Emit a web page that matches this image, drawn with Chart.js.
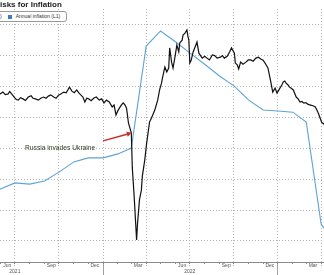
<!DOCTYPE html>
<html>
<head>
<meta charset="utf-8">
<script src="https://cdn.jsdelivr.net/npm/chart.js@4/dist/chart.umd.min.js"></script>
<style>
  html, body { margin: 0; padding: 0; background: #fff; }
  #wrap { position: relative; width: 324px; height: 275px; overflow: hidden; background: #fff; }
  #c { position: absolute; left: 0; top: 0; }
  #title { position: absolute; left: 0; top: 1px; font: bold 8px/8px 'Liberation Sans', Arial, sans-serif; color: #1a1a1a; white-space: nowrap; }
  #legend { position: absolute; left: -6px; top: 11px; width: 71px; height: 9px; border: 1px solid #9a9a9a; border-radius: 3px; background: #fff;
            font: 5px/9px 'Liberation Sans', Arial, sans-serif; color: #333; white-space: nowrap; display: flex; align-items: center; }
  #legend .sq { display: inline-block; width: 4px; height: 4px; background: #3b7dc4; margin-left: 6px; margin-right: 4px; }
  #note { position: absolute; left: 25px; top: 144.5px; font: 6.7px/6.7px 'Liberation Sans', Arial, sans-serif; color: #2f3d25; white-space: nowrap; }
</style>
</head>
<body>
<div id="wrap">
  <canvas id="c" width="324" height="275"></canvas>
  <div id="title">isks for Inflation</div>
  <div id="legend"><span style="margin-left:5px">)</span><span class="sq"></span><span>Annual inflation (L1)</span></div>
  <div id="note">Russia invades Ukraine</div>
</div>
<script>
// ---------- data ----------
const blueDates = ['2021-05-01','2021-06-01','2021-07-01','2021-08-01','2021-09-01','2021-10-01','2021-11-01','2021-12-01',
  '2022-01-01','2022-02-01','2022-03-01','2022-04-01','2022-05-01','2022-06-01','2022-07-01','2022-08-01','2022-09-01',
  '2022-10-01','2022-11-01','2022-12-01','2023-01-01','2023-02-01','2023-03-01','2023-04-01','2023-05-01'];
const blueValues = [2.45,2.68,2.88,2.84,2.94,3.23,3.56,3.69,
  3.69,3.82,4.01,7.31,7.80,7.45,7.09,6.72,6.34,
  6.02,5.56,5.24,5.21,5.17,4.85,1.55,0.90];

const blackDates = [
  '2021-05-27','2021-06-06','2021-06-11','2021-06-17','2021-06-20','2021-06-23','2021-07-01','2021-07-04','2021-07-08','2021-07-13',
  '2021-07-18','2021-07-23','2021-07-29','2021-08-04','2021-08-08','2021-08-13','2021-08-19','2021-08-24','2021-08-30','2021-09-04',
  '2021-09-09','2021-09-14','2021-09-20','2021-09-25','2021-09-30','2021-10-05','2021-10-11','2021-10-16','2021-10-23','2021-10-28',
  '2021-11-02','2021-11-07','2021-11-11','2021-11-16','2021-11-20','2021-11-24','2021-11-28','2021-12-02','2021-12-07','2021-12-13',
  '2021-12-18','2021-12-24','2021-12-29','2022-01-03','2022-01-08','2022-01-14','2022-01-20','2022-01-24','2022-01-28','2022-02-01',
  '2022-02-04','2022-02-08','2022-02-12','2022-02-16','2022-02-19','2022-02-23','2022-03-01','2022-03-03','2022-03-05','2022-03-07',
  '2022-03-12','2022-03-14','2022-03-18','2022-03-22','2022-03-24','2022-03-29','2022-04-02','2022-04-08','2022-04-12','2022-04-19',
  '2022-04-25','2022-04-29','2022-05-03','2022-05-05','2022-05-10','2022-05-14','2022-05-18','2022-05-20','2022-05-24','2022-05-27',
  '2022-05-31','2022-06-04','2022-06-08','2022-06-10','2022-06-15','2022-06-17','2022-06-21','2022-06-25','2022-06-27','2022-06-29',
  '2022-07-01','2022-07-04','2022-07-08','2022-07-12','2022-07-16','2022-07-20','2022-07-27','2022-08-01','2022-08-06','2022-08-11',
  '2022-08-17','2022-08-22','2022-08-27','2022-09-03','2022-09-07','2022-09-11','2022-09-17','2022-09-22','2022-09-26','2022-10-02',
  '2022-10-04','2022-10-08','2022-10-11','2022-10-15','2022-10-20','2022-10-26','2022-10-31','2022-11-05','2022-11-10','2022-11-16',
  '2022-11-21','2022-11-26','2022-12-01','2022-12-05','2022-12-11','2022-12-17','2022-12-21','2022-12-26','2022-12-30','2023-01-05',
  '2023-01-09','2023-01-12','2023-01-15','2023-01-18','2023-01-22','2023-01-25','2023-01-28','2023-02-02','2023-02-08','2023-02-12',
  '2023-02-16','2023-02-20','2023-02-23','2023-03-01','2023-03-05','2023-03-10','2023-03-15','2023-03-20','2023-03-26','2023-04-02',
  '2023-04-06','2023-04-10'];
const blackValues = [
  5.72,5.82,5.74,5.76,5.84,5.79,5.63,5.58,5.56,5.64,
  5.60,5.55,5.66,5.70,5.62,5.60,5.56,5.62,5.66,5.62,
  5.69,5.73,5.66,5.62,5.72,5.76,5.82,5.80,5.98,5.85,
  5.80,5.89,5.80,5.72,5.66,5.50,5.62,5.60,5.54,5.63,
  5.66,5.56,5.60,5.47,5.56,5.50,5.34,5.40,5.08,5.22,
  5.30,5.40,5.47,5.40,5.30,4.82,4.50,3.39,2.91,2.42,
  1.03,1.58,2.33,2.65,3.10,3.62,4.17,4.85,4.98,5.24,
  5.56,5.89,6.11,6.28,6.63,6.47,6.60,7.25,6.79,6.60,
  6.95,7.34,7.12,7.41,7.50,7.67,7.73,7.83,7.63,7.50,
  6.76,6.86,7.12,7.28,7.44,7.08,6.92,6.98,6.92,6.86,
  7.02,7.00,6.92,6.95,7.00,6.92,6.98,7.12,7.25,7.08,
  6.76,6.70,6.57,6.79,6.72,6.79,6.86,6.86,6.82,6.92,
  6.95,6.89,6.85,6.76,6.60,6.15,5.82,5.95,5.79,5.95,
  6.05,6.15,6.18,6.11,6.05,5.98,5.95,5.89,5.66,5.60,
  5.50,5.52,5.47,5.47,5.42,5.40,5.38,5.34,5.14,4.85,
  4.79,4.85];

// axis / tick definitions
const xRange = ['2021-05-31', '2023-04-07'];
const yRange = [0.32, 8.51];
const yGridValues = [1, 2, 3, 4, 5, 6, 7, 8];
const quarterStarts = ['2021-07-01','2021-10-01','2022-01-01','2022-04-01','2022-07-01','2022-10-01','2023-01-01','2023-04-01'];
const monthLabelDates = ['2021-06-15','2021-09-15','2021-12-15','2022-03-15','2022-06-15','2022-09-15','2022-12-15','2023-03-15'];
const monthLabels = ['Jun','Sep','Dec','Mar','Jun','Sep','Dec','Mar'];
const yearLabelDates = ['2021-07-01','2022-07-01'];
const yearLabels = ['2021','2022'];
const yearBreaks = ['2022-01-01','2023-01-01'];
const monthStarts = ['2021-06-01','2021-07-01','2021-08-01','2021-09-01','2021-10-01','2021-11-01','2021-12-01',
  '2022-01-01','2022-02-01','2022-03-01','2022-04-01','2022-05-01','2022-06-01','2022-07-01','2022-08-01','2022-09-01',
  '2022-10-01','2022-11-01','2022-12-01','2023-01-01','2023-02-01','2023-03-01','2023-04-01'];

// annotation arrow (data coordinates)
const arrowFrom = ['2022-01-01', 4.24];
const arrowTo = ['2022-03-02', 4.50];

// ---------- helpers ----------
const EPOCH = Date.UTC(2022, 0, 1);
function dayNum(s) {
  const [y, m, d] = s.split('-').map(Number);
  return Math.round((Date.UTC(y, m - 1, d) - EPOCH) / 86400000);
}
const xMin = dayNum(xRange[0]), xMax = dayNum(xRange[1]);
const quarterSet = new Set(quarterStarts.map(dayNum));
const labelMap = new Map();
monthLabelDates.forEach((d, i) => labelMap.set(dayNum(d), monthLabels[i]));
yearLabelDates.forEach((d, i) => labelMap.set(dayNum(d), ['', yearLabels[i]]));

const blueData = blueDates.map((d, i) => ({ x: dayNum(d), y: blueValues[i] }));
const blackData = blackDates.map((d, i) => ({ x: dayNum(d), y: blackValues[i] }));

const GRID = '#b4b4b4';
Chart.defaults.font.family = "'Liberation Sans', Arial, sans-serif";

const arrowPlugin = {
  id: 'arrowPlugin',
  afterDatasetsDraw(chart) {
    const xs = chart.scales.x, ys = chart.scales.y, ctx = chart.ctx;
    const x1 = xs.getPixelForValue(dayNum(arrowFrom[0])), y1 = ys.getPixelForValue(arrowFrom[1]);
    const x2 = xs.getPixelForValue(dayNum(arrowTo[0])), y2 = ys.getPixelForValue(arrowTo[1]);
    const ang = Math.atan2(y2 - y1, x2 - x1);
    const hl = 5, hw = 2.6;
    ctx.save();
    ctx.strokeStyle = '#cc2a2a';
    ctx.fillStyle = '#cc2a2a';
    ctx.lineWidth = 1.4;
    ctx.beginPath();
    ctx.moveTo(x1, y1);
    ctx.lineTo(x2 - hl * Math.cos(ang), y2 - hl * Math.sin(ang));
    ctx.stroke();
    ctx.beginPath();
    ctx.moveTo(x2, y2);
    ctx.lineTo(x2 - hl * Math.cos(ang) + hw * Math.sin(ang), y2 - hl * Math.sin(ang) - hw * Math.cos(ang));
    ctx.lineTo(x2 - hl * Math.cos(ang) - hw * Math.sin(ang), y2 - hl * Math.sin(ang) + hw * Math.cos(ang));
    ctx.closePath();
    ctx.fill();
    ctx.restore();
  }
};

new Chart(document.getElementById('c'), {
  type: 'line',
  data: {
    datasets: [
      { label: 'Index (R1)', data: blackData, borderColor: '#111111', borderWidth: 1.2, pointRadius: 0, tension: 0, fill: false },
      { label: 'Annual inflation (L1)', data: blueData, borderColor: '#5fa3d4', borderWidth: 1.1, pointRadius: 0, tension: 0, fill: false }
    ]
  },
  options: {
    responsive: false,
    animation: false,
    devicePixelRatio: 1,
    layout: { padding: { top: 9, left: 0, right: 0, bottom: 0 }, autoPadding: false },
    plugins: { legend: { display: false }, title: { display: false }, tooltip: { enabled: false } },
    scales: {
      x: {
        type: 'linear', position: 'bottom', weight: 2, min: xMin, max: xMax,
        afterBuildTicks: s => {
          const vals = [...quarterStarts.map(dayNum), ...monthLabelDates.map(dayNum)];
          s.ticks = [...new Set(vals)].sort((a, b) => a - b).map(v => ({ value: v }));
        },
        afterFit: s => { s.height = 13; },
        grid: {
          drawOnChartArea: true, drawTicks: true, tickLength: 4, lineWidth: 1,
          color: c => (c.tick && quarterSet.has(c.tick.value)) ? GRID : 'rgba(0,0,0,0)',
          tickColor: c => (c.tick && quarterSet.has(c.tick.value)) ? GRID : 'rgba(0,0,0,0)',
          tickBorderDash: [1, 1]
        },
        border: { display: true, color: '#8a8a8a', width: 1, dash: [1, 2] },
        ticks: {
          autoSkip: false, maxRotation: 0, minRotation: 0, padding: -3, color: '#555',
          font: { size: 5, lineHeight: 1.2 },
          callback: v => labelMap.has(v) ? labelMap.get(v) : ''
        }
      },
      xsep: {
        type: 'linear', position: 'bottom', weight: 0, min: xMin, max: xMax,
        afterBuildTicks: s => { s.ticks = yearBreaks.map(d => ({ value: dayNum(d) })); },
        afterFit: s => { s.height = 0; },
        grid: { drawOnChartArea: false, drawTicks: true, tickLength: 13, color: '#a0a0a0', tickColor: '#a0a0a0' },
        border: { display: false },
        ticks: { display: false }
      },
      xmon: {
        type: 'linear', position: 'bottom', weight: 1, min: xMin, max: xMax,
        afterBuildTicks: s => { s.ticks = monthStarts.map(d => ({ value: dayNum(d) })); },
        afterFit: s => { s.height = 0; },
        grid: { drawOnChartArea: false, drawTicks: true, tickLength: 2, color: '#8a8a8a', tickColor: '#8a8a8a' },
        border: { display: false },
        ticks: { display: false }
      },
      y: {
        type: 'linear', position: 'left', min: yRange[0], max: yRange[1],
        afterBuildTicks: s => { s.ticks = yGridValues.map(v => ({ value: v })); },
        afterFit: s => { s.width = 0; },
        grid: { drawTicks: false, color: GRID, lineWidth: 1 },
        border: { display: false, dash: [1, 2] },
        ticks: { display: false }
      }
    }
  },
  plugins: [arrowPlugin]
});
</script>
</body>
</html>
